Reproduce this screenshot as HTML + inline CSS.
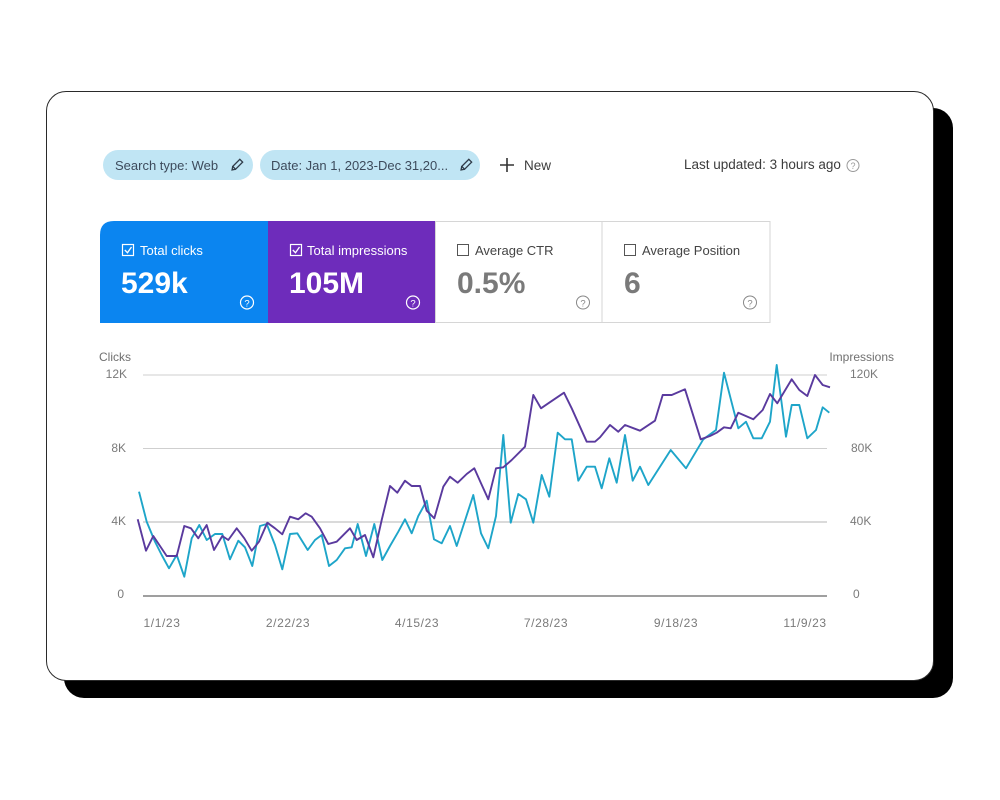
<!DOCTYPE html>
<html>
<head>
<meta charset="utf-8">
<style>
  html,body{margin:0;padding:0;background:#fff;}
  body{width:1000px;height:800px;position:relative;overflow:hidden;font-family:"Liberation Sans",Arial,sans-serif;}
  .shadow{position:absolute;left:64px;top:108px;width:889px;height:590px;background:#000;border-radius:20px;}
  .card{position:absolute;left:46px;top:91px;width:888px;height:590px;background:#fff;border:1.3px solid #2a2a2a;border-radius:20px;box-sizing:border-box;}
  svg{position:absolute;left:0;top:0;}
</style>
</head>
<body>
<div class="shadow"></div>
<div class="card"></div>
<svg width="1000" height="800" viewBox="0 0 1000 800" xmlns="http://www.w3.org/2000/svg" font-family="Liberation Sans, Arial, sans-serif">
  <!-- chips -->
  <rect x="103" y="150" width="150" height="30" rx="15" fill="#c0e5f4"/>
  <text x="115" y="170" font-size="13" fill="#3d4b5c">Search type: Web</text>
  <g transform="translate(237,165) rotate(45)" fill="none" stroke="#2f3b48" stroke-width="1.3">
    <rect x="-2" y="-6" width="4" height="10"/>
    <path d="M-2,4 L0,7 L2,4" />
  </g>
  <rect x="260" y="150" width="220" height="30" rx="15" fill="#c0e5f4"/>
  <text x="271" y="170" font-size="13" fill="#3d4b5c">Date: Jan 1, 2023-Dec 31,20...</text>
  <g transform="translate(466,165) rotate(45)" fill="none" stroke="#2f3b48" stroke-width="1.3">
    <rect x="-2" y="-6" width="4" height="10"/>
    <path d="M-2,4 L0,7 L2,4" />
  </g>
  <path d="M500,165 H514 M507,158 V172" stroke="#333" stroke-width="1.6"/>
  <text x="524" y="170" font-size="13.5" fill="#3c3c3c">New</text>
  <text x="684" y="169" font-size="13.5" fill="#3c3c3c">Last updated: 3 hours ago</text>
  <circle cx="853" cy="165.5" r="6" fill="none" stroke="#9a9a9a" stroke-width="1"/>
  <text x="853" y="169" font-size="9" fill="#9a9a9a" text-anchor="middle">?</text>

  <!-- metric cards -->
  <path d="M100,323 V235 Q100,221 114,221 H268 V323 Z" fill="#0b85f0"/>
  <rect x="268" y="221" width="167" height="102" fill="#6e2cbb"/>
  <rect x="435.5" y="221.5" width="166.5" height="101" fill="#fff" stroke="#d6d6d6" stroke-width="1"/>
  <rect x="602" y="221.5" width="168" height="101" fill="#fff" stroke="#d6d6d6" stroke-width="1"/>

  <!-- blue card -->
  <rect x="122.5" y="244.5" width="11" height="11" fill="none" stroke="#fff" stroke-width="1.2"/>
  <path d="M124.8,250 L127.5,252.7 L131.5,247" fill="none" stroke="#fff" stroke-width="1.3"/>
  <text x="140" y="255" font-size="13" fill="#fff">Total clicks</text>
  <text x="121" y="293" font-size="30" font-weight="bold" fill="#fff">529k</text>
  <circle cx="247" cy="302.5" r="6.5" fill="none" stroke="#fff" stroke-width="1.2"/>
  <text x="247" y="306.5" font-size="9.5" fill="#fff" text-anchor="middle">?</text>

  <!-- purple card -->
  <rect x="290.5" y="244.5" width="11" height="11" fill="none" stroke="#fff" stroke-width="1.2"/>
  <path d="M292.8,250 L295.5,252.7 L299.5,247" fill="none" stroke="#fff" stroke-width="1.3"/>
  <text x="307" y="255" font-size="13" fill="#fff">Total impressions</text>
  <text x="289" y="293" font-size="30" font-weight="bold" fill="#fff">105M</text>
  <circle cx="413" cy="302.5" r="6.5" fill="none" stroke="#fff" stroke-width="1.2"/>
  <text x="413" y="306.5" font-size="9.5" fill="#fff" text-anchor="middle">?</text>

  <!-- CTR card -->
  <rect x="457.5" y="244.5" width="11" height="11" fill="none" stroke="#555" stroke-width="1"/>
  <text x="475" y="255" font-size="13" fill="#444">Average CTR</text>
  <text x="457" y="293" font-size="30" font-weight="bold" fill="#7a7a7a">0.5%</text>
  <circle cx="583" cy="302.5" r="6.5" fill="none" stroke="#888" stroke-width="1"/>
  <text x="583" y="306.5" font-size="9.5" fill="#888" text-anchor="middle">?</text>

  <!-- Position card -->
  <rect x="624.5" y="244.5" width="11" height="11" fill="none" stroke="#555" stroke-width="1"/>
  <text x="642" y="255" font-size="13" fill="#444">Average Position</text>
  <text x="624" y="293" font-size="30" font-weight="bold" fill="#7a7a7a">6</text>
  <circle cx="750" cy="302.5" r="6.5" fill="none" stroke="#888" stroke-width="1"/>
  <text x="750" y="306.5" font-size="9.5" fill="#888" text-anchor="middle">?</text>

  <!-- chart axes -->
  <text x="99" y="361" font-size="12" fill="#707070">Clicks</text>
  <text x="894" y="361" font-size="12" fill="#707070" text-anchor="end">Impressions</text>
  <g font-size="12" fill="#7a7a7a">
    <text x="127" y="378" text-anchor="end">12K</text>
    <text x="126" y="452" text-anchor="end">8K</text>
    <text x="126" y="525" text-anchor="end">4K</text>
    <text x="124" y="598" text-anchor="end">0</text>
    <text x="850" y="378">120K</text>
    <text x="851" y="452">80K</text>
    <text x="850" y="525">40K</text>
    <text x="853" y="598">0</text>
  </g>
  <line x1="143" y1="375" x2="827" y2="375" stroke="#cfcfcf" stroke-width="1"/>
  <line x1="143" y1="448.5" x2="827" y2="448.5" stroke="#cfcfcf" stroke-width="1"/>
  <line x1="143" y1="522" x2="827" y2="522" stroke="#b5b5b5" stroke-width="1"/>
  <line x1="143" y1="596" x2="827" y2="596" stroke="#666" stroke-width="1.2"/>
  <g font-size="12" fill="#7a7a7a" text-anchor="middle" letter-spacing="0.6">
    <text x="162" y="627">1/1/23</text>
    <text x="288" y="627">2/22/23</text>
    <text x="417" y="627">4/15/23</text>
    <text x="546" y="627">7/28/23</text>
    <text x="676" y="627">9/18/23</text>
    <text x="805" y="627">11/9/23</text>
  </g>

  <!-- series -->
  <polyline fill="none" stroke="#1ea5c9" stroke-width="1.9" stroke-linejoin="round" points="139,491.7 146.7,521.7 155,541.7 161.7,555 169,568.3 176.7,555 184.3,576.7 191.7,538.3 199.3,525 206.7,540 215,534 222.3,534 230,559.3 238.3,540.7 245,547.3 252.3,566 260,526 266.7,524 275,545 282.3,569.3 290,534 297.3,533.3 307.7,550 315,540 321.7,535 329,566 336.7,560 345,548.3 351.7,547.3 357.7,524 366,556 374.3,524 382.3,560 390,546 398.3,531.7 405,519.3 411.7,533.3 418.3,516 426.7,500.7 434,539.3 441.7,543.3 450,526 456.7,546 473.3,495 481,533.3 488.3,548.3 496,516 503.3,435 510.7,522.7 518.3,494 526,499.3 533.3,522.7 541.7,475 549.3,496.7 557.7,432.7 565,439.3 571.7,439.3 578.3,480.7 586.7,466.7 595,466.7 601.7,488.3 609.3,458.3 616.7,482.7 625,435 632.7,480.7 640,466.7 648.3,485 670.7,450 686,468.3 703.3,439.3 716,430 724,372.7 738.3,428.3 746,421.7 753.3,438.3 761.7,438.3 770,421.7 776.7,365 786,436.7 791.7,405 799.3,405 807.3,438.3 816,430 822.7,407.3 829.3,412.7"/>
  <polyline fill="none" stroke="#5a3a9e" stroke-width="1.9" stroke-linejoin="round" points="137.7,519.3 146,550.7 153.3,536 166.7,556 176.7,556 184.3,526 191,528.3 198.3,538.3 206.7,525 214,550 222.3,536 228.3,540 236.7,528.3 244.3,538.3 251.7,550.7 259,541.7 267.3,522.7 275,528.3 282.3,534.3 290,516.7 298.3,519.3 305.7,513.3 311.7,516.7 320,528.3 328.3,544 336.7,541.7 350,528.3 356.7,540 365,535 373.3,557.3 381.7,520 390,486 397.3,492.7 405,480.7 411.7,486 420,486 426.7,510.7 434.3,518.3 443.3,486.7 450,476.7 457.7,482.7 466.7,474 474.3,468.3 481,483.3 488.3,499.3 496,468.3 503.3,467.3 511.7,460 525,446.7 533.3,395 541,408.3 548.3,403.3 564,392.7 571.7,408.3 586.7,441.7 595,441.7 600,437.3 610,425 618.3,431.7 625,425 640,430.7 655,420.7 662.7,395 671.7,395 685,389.3 700.7,439.3 710,436 716.7,432.7 724,427.3 730.7,428.3 738.3,412.7 753.3,419.3 762.7,410 770,394 777.3,403.3 791.7,379.3 799.3,390 807.3,396 815,375 822.7,385 830,387.3"/>
</svg>
</body>
</html>
